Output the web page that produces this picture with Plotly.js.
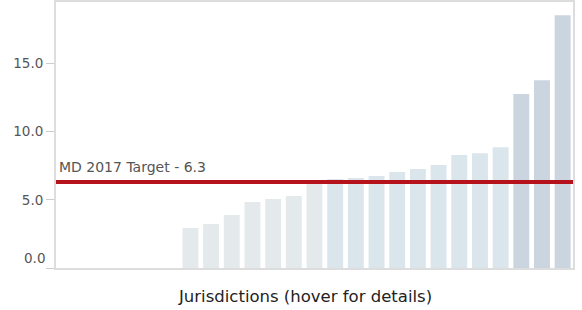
<!DOCTYPE html>
<html>
<head>
<meta charset="utf-8">
<script src="https://cdn.plot.ly/plotly-3.0.1.min.js"></script>
<style>html,body{margin:0;padding:0;background:#fff;}#chart{width:582px;height:310px;}</style>
</head>
<body>
<div id="chart"></div>
<script>
var jurisdictions = ["J01","J02","J03","J04","J05","J06","J07","J08","J09","J10","J11","J12","J13","J14","J15","J16","J17","J18","J19","J20","J21","J22","J23","J24","J25"];
var values = [0,0,0,0,0,0,2.93,3.22,3.88,4.84,5.05,5.27,6.2,6.52,6.59,6.74,7.03,7.25,7.55,8.28,8.42,8.86,12.75,13.77,18.53];
var groups = [0,0,0,0,0,0,0,0,0,0,0,0,0,1,1,1,1,1,1,1,1,1,2,2,2];
var groupColors = ["#e4e9ec","#dae6ec","#cbd5df"];
var targetValue = 6.3;
var targetLabel = "MD 2017 Target - 6.3";
var yTicks = [0,5,10,15];
var yTickText = ["0.0","5.0","10.0","15.0"];
var xTitle = "Jurisdictions (hover for details)";

var colors = groups.map(function(g){ return groupColors[g]; });

var trace = {
  type: "bar",
  x: jurisdictions,
  y: values,
  marker: {color: colors},
  hoverinfo: "x+y"
};

var font = "DejaVu Sans, Liberation Sans, Arial, sans-serif";
var layout = {
  width: 582, height: 310,
  margin: {l: 56, r: 9, t: 2, b: 42},
  paper_bgcolor: "#fff", plot_bgcolor: "#fff",
  bargap: 0.23,
  showlegend: false,
  font: {family: font, size: 13.5, color: "#555"},
  xaxis: {
    type: "category",
    showticklabels: false,
    ticks: "",
    showgrid: false,
    zeroline: false,
    showline: true, mirror: true,
    linecolor: "#dddddd", linewidth: 2,
    fixedrange: true
  },
  yaxis: {
    range: [0, 19.5],
    tickvals: yTicks,
    ticktext: yTickText.map(function(t, i){ return yTicks[i] === 0 ? "" : t; }),
    ticks: "outside", ticklen: 8, tickcolor: "#cccccc", tickwidth: 1,
    tickfont: {family: font, size: 13.5, color: "#555"},
    showgrid: false, zeroline: false,
    showline: true, mirror: true,
    linecolor: "#dddddd", linewidth: 2,
    fixedrange: true
  },
  shapes: [{
    type: "line", xref: "paper", yref: "y",
    x0: 0, x1: 1, y0: targetValue, y1: targetValue,
    line: {color: "#b5121b", width: 4}
  }],
  annotations: [
    {
      xref: "paper", yref: "y", x: 0, y: targetValue,
      xanchor: "left", yanchor: "bottom", yshift: 5, xshift: 1,
      text: targetLabel, showarrow: false,
      font: {family: font, size: 14, color: "#555"}
    },
    {
      xref: "paper", yref: "y", x: 0, y: yTicks[0],
      xanchor: "right", yanchor: "middle", xshift: -9, yshift: 10,
      text: yTickText[0], showarrow: false,
      font: {family: font, size: 13.5, color: "#555"}
    },
    {
      xref: "paper", yref: "paper", x: 0.4816, y: 0,
      xanchor: "center", yanchor: "middle", yshift: -28,
      text: xTitle, showarrow: false,
      font: {family: font, size: 16.5, color: "#222"}
    }
  ]
};

Plotly.newPlot("chart", [trace], layout, {displayModeBar: false});
</script>
</body>
</html>
